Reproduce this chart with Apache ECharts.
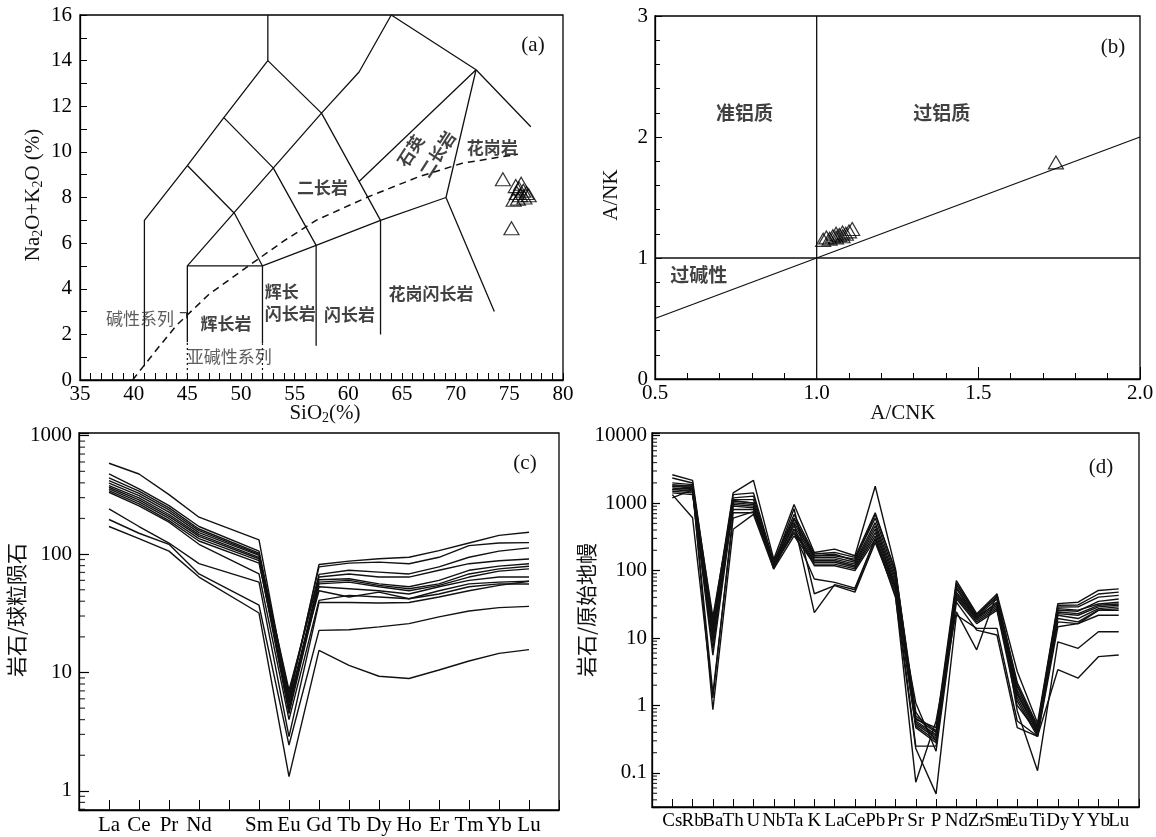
<!DOCTYPE html>
<html><head><meta charset="utf-8">
<script src="https://cdn.jsdelivr.net/npm/echarts@6/dist/echarts.min.js"></script>
<style>html,body{margin:0;padding:0;background:#fff}#chart{width:1156px;height:837px}</style>
</head><body><div id="chart"></div>
<script>
// ================= DATA =================
// (a) TAS diagram samples
const tasSiO2 = [74.4, 75.2, 75.4, 75.6, 75.7, 75.9, 76.0, 76.1, 76.3, 76.4, 76.6, 76.8, 75.8];
const tasAlkali = [8.8, 6.65, 7.9, 8.5, 8.2, 8.4, 8.1, 8.6, 8.3, 8.0, 8.2, 8.1, 7.95];
// (a) field boundaries (data coordinates)
const tasOuter = [[41,0.6],[41,7],[45,9.4],[48.4,11.5],[52.5,14],[57.5,11.7],[61,13.5],[64,16],[71.9,13.6],[77,11.1]];
const tasTopLine = [[52.5,14],[52.5,16]];
const tasLineB = [[48.4,11.5],[53,9.3],[57,5.9],[57,1.5]];
const tasLineC = [[45,9.4],[49.4,7.3],[52,5],[52,1.6]];
const tasLineD = [[45,1.65],[45,5],[57.5,11.7],[63,7],[63,2]];
const tasLineE = [[45,5],[52,5],[57,5.9],[63,7],[69.1,8],[73.6,3]];
const tasLineF = [[61,8.7],[71.9,13.6],[69.1,8]];
const tasDotted45 = [[45,0],[45,1.65]];
const tasDotted52 = [[52,0],[52,1.6]];
const tasHook = [[44.3,2.95],[44.95,2.95],[44.95,2.7]];
const tasAlkalineDivide = [[39.9,0],[42,1.25],[44,2.4],[47,3.75],[50.7,5.0],[54,6.1],[57,7.0],[61.7,8.0],[66.5,8.9],[70.6,9.5],[75.8,9.9]];
const tasFieldNames = ['二长岩','花岗岩','花岗闪长岩','闪长岩','辉长','闪长岩','辉长岩'];
const tasFieldX = [57.6, 73.4, 67.7, 60.1, 53.8, 54.6, 48.6];
const tasFieldY = [8.45, 10.2, 3.8, 2.85, 3.87, 2.92, 2.49];
const tasRotNames = ['石英','二长岩'];
const tasRotX = [65.8, 68.3];
const tasRotY = [10.05, 9.9];
const tasSeriesNames = ['碱性系列','亚碱性系列'];
const tasSeriesX = [40.6, 48.9];
const tasSeriesY = [2.7, 1.05];

// (b) A/CNK - A/NK
const aCNK = [1.02, 1.03, 1.04, 1.05, 1.06, 1.07, 1.08, 1.09, 1.10, 1.11, 1.08, 1.06, 1.74];
const aNK  = [1.15, 1.17, 1.16, 1.18, 1.17, 1.19, 1.18, 1.20, 1.22, 1.24, 1.21, 1.20, 1.79];
const bDiagonal = [[0.5,0.5],[2.0,2.0]];
const bVertical = [[1,0],[1,3]];
const bHorizontal = [[0.5,1],[2.0,1]];
const bFieldNames = ['准铝质','过铝质','过碱性'];
const bFieldX = [0.777, 1.387, 0.635];
const bFieldY = [2.2, 2.2, 0.86];

// (c) chondrite-normalised REE
const reeElements = ['La','Ce','Pr','Nd','Sm','Eu','Gd','Tb','Dy','Ho','Er','Tm','Yb','Lu'];
const reeAxisTicks = ['pad0','La','Ce','Pr','Nd','Pm','Sm','Eu','Gd','Tb','Dy','Ho','Er','Tm','Yb','Lu','pad1'];
const reeHiddenTicks = ['pad0','Pm','pad1'];
const ree01 = [585, 475, 318, 205, 132, 5.85, 81.8, 87.3, 91.4, 94, 107, 124, 144, 153];
const ree02 = [475, 355, 257, 171, 106, 6.2, 78, 84, 85.6, 83, 94, 118, 124, 125];
const ree03 = [440, 340, 246, 163, 102, 6.65, 67.4, 73, 70.5, 68, 78, 94, 106, 113];
const ree04 = [418, 326, 236, 158, 99.3, 7.1, 64, 68, 64, 64, 73, 83, 88, 91];
const ree05 = [397, 312, 226, 152, 97.5, 5.48, 60.8, 62, 56, 53, 60, 73, 79.2, 83];
const ree06 = [379, 298, 216, 146, 94, 5.1, 58, 60, 54.5, 51, 56, 68, 75, 79];
const ree07 = [367, 287, 208, 141, 91.4, 4.8, 56, 58, 53, 49, 54.5, 64, 71.9, 75];
const ree08 = [355, 276, 200, 135, 88, 4.5, 53, 51, 49, 46, 53, 60, 64, 64];
const ree09 = [344, 266, 192, 129, 84, 5.66, 49, 43.4, 47.8, 42, 49, 56, 58, 59];
const ree10 = [333, 255, 186, 121, 68, 4.0, 40.7, 44.8, 43.4, 42, 46, 53, 56, 56];
const ree11 = [241, 171, 124, 83, 58, 2.87, 39, 39, 38.6, 39, 43.4, 49, 54.5, 59];
const ree12 = [196, 150, 121, 68, 37, 2.44, 22.7, 23, 24.3, 25.9, 29.5, 33.1, 35.3, 36.2];
const ree13 = [171, 135, 106, 64, 31.8, 1.32, 15.4, 11.5, 9.3, 8.9, 10.5, 12.5, 14.5, 15.6];

// (d) primitive-mantle-normalised spidergram
const spiderElements = ['Cs','Rb','Ba','Th','U','Nb','Ta','K','La','Ce','Pb','Pr','Sr','P','Nd','Zr','Sm','Eu','Ti','Dy','Y','Yb','Lu'];
const spiderAxisTicks = ['pad0','Cs','Rb','Ba','Th','U','Nb','Ta','K','La','Ce','Pb','Pr','Sr','P','Nd','Zr','Sm','Eu','Ti','Dy','Y','Yb','Lu','pad1'];
const spiderHiddenTicks = ['pad0','pad1'];
const sp01 = [2640, 2180, 17.4, 1420, 2180, 148, 955, 186, 208, 166, 1780, 106, 0.62, 0.47, 71, 23, 45, 3.2, 0.55, 32.4, 34, 50.8, 53.7];
const sp02 = [2360, 1990, 14.7, 1340, 1420, 133, 681, 176, 186, 157, 721, 94.5, 0.7, 0.42, 62, 21.8, 40.5, 2.2, 0.5, 30.6, 31, 45, 48];
const sp03 = [2000, 1880, 13.1, 1200, 1270, 125, 575, 166, 166, 148, 600, 84, 0.65, 0.40, 56.9, 20.6, 38, 1.9, 0.47, 28.9, 29, 40.5, 43];
const sp04 = [1880, 1780, 11.1, 1130, 1130, 118, 514, 157, 157, 133, 514, 75, 0.59, 0.37, 53.7, 19.5, 34.2, 1.7, 0.45, 27.3, 26, 32, 34];
const sp05 = [1780, 1680, 9.9, 1070, 1010, 125, 459, 148, 148, 125, 459, 67, 0.56, 0.35, 48, 20.6, 32.4, 1.55, 0.42, 24.4, 23, 30.6, 32];
const sp06 = [1680, 1590, 8.8, 1010, 955, 112, 410, 140, 140, 118, 410, 60, 0.53, 0.33, 45.4, 19.5, 30.6, 1.45, 0.40, 23, 21.8, 29, 30.6];
const sp07 = [1590, 1500, 7.05, 955, 903, 118, 366, 133, 133, 112, 366, 56.9, 0.5, 0.3, 42.9, 18.4, 28.9, 1.3, 0.37, 21.8, 19.5, 27.3, 29];
const sp08 = [1500, 1420, 5.6, 903, 853, 106, 327, 125, 125, 106, 327, 53.7, 0.47, 0.28, 40.5, 17.4, 27.3, 1.16, 0.35, 19.5, 17.4, 26, 27.3];
const sp09 = [1420, 1340, 16.4, 807, 807, 112, 410, 118, 118, 100, 292, 50.8, 0.25, 0.25, 38.3, 16.4, 25.8, 1.0, 0.4, 17.4, 16.4, 25.8, 25.8];
const sp10 = [1340, 608, 1.3, 721, 721, 125, 827, 45.4, 60, 48, 261, 45.4, 1.09, 0.21, 34.2, 13.1, 11.1, 0.47, 0.35, 14.7, 16.4, 21.8, 21.8];
const sp11 = [1590, 1680, 0.87, 410, 681, 106, 514, 23.8, 62, 52, 292, 42.9, 0.073, 0.59, 24.4, 6.7, 45.4, 0.83, 0.108, 8.8, 7.05, 12.4, 12.4];
const sp12 = [1200, 1590, 1.5, 600, 750, 125, 366, 75, 67, 55, 300, 40, 0.23, 0.049, 22, 13.9, 13.9, 0.59, 0.35, 3.4, 2.55, 5.3, 5.6];
const sp13 = [1800, 1800, 20.6, 1100, 1000, 140, 600, 166, 175, 140, 681, 100, 0.8, 0.3, 65, 22, 42, 2.0, 0.45, 25.8, 25, 35, 38];

// log-axis minor tick positions
const logMinorSteps = [2, 3, 4, 5, 6, 7, 8, 9];
const reeMinorDecades = [0.1, 1, 10, 100];
const spiderMinorDecades = [0.01, 0.1, 1, 10, 100, 1000];

// ================= CHART =================
const SERIF = '"Liberation Serif", "Times New Roman", serif';
const CJK = '"Noto Sans CJK SC", sans-serif';
const INK = '#111';

const chart = echarts.init(document.getElementById('chart'), null, {renderer: 'canvas'});

function ax(extra) {
  const base = {
    axisLine: {show: true, onZero: false, lineStyle: {color: '#000', width: 1.3}},
    axisTick: {show: true, inside: true, length: 7, lineStyle: {color: '#000', width: 1}},
    axisLabel: {color: '#000', fontFamily: SERIF, fontSize: 21, hideOverlap: false},
    splitLine: {show: false},
    minorSplitLine: {show: false},
    splitArea: {show: false}
  };
  for (const k in extra) {
    if (base[k] && typeof base[k] === 'object' && typeof extra[k] === 'object' && !Array.isArray(extra[k])) {
      base[k] = Object.assign({}, base[k], extra[k]);
    } else base[k] = extra[k];
  }
  return base;
}

function logLabel(v) {
  const e = Math.log10(v);
  const r = Math.round(e);
  if (Math.abs(e - r) > 1e-6) return '';
  return r < 0 ? Math.pow(10, r).toFixed(-r) : String(Math.round(Math.pow(10, r)));
}

function pathLine(data, gi, dash, width) {
  return {
    type: 'line', xAxisIndex: gi, yAxisIndex: gi, data: data, symbol: 'none', silent: true,
    lineStyle: {color: INK, width: width || 1.3, type: dash || 'solid'}, animation: false, z: 3
  };
}

function textSeries(gi, names, xs, ys, style, rotate) {
  return {
    type: 'scatter', xAxisIndex: gi, yAxisIndex: gi, symbolSize: 1, silent: true,
    itemStyle: {color: 'rgba(0,0,0,0)'},
    data: names.map((n, i) => ({name: n, value: [xs[i], ys[i]]})),
    label: Object.assign({show: true, position: 'inside', formatter: '{b}', rotate: rotate || 0}, style),
    z: 4
  };
}

function triangles(gi, xs, ys) {
  return {
    type: 'scatter', xAxisIndex: gi, yAxisIndex: gi, symbol: 'triangle', symbolSize: [15, 13],
    data: xs.map((x, i) => [x, ys[i]]), silent: true,
    itemStyle: {color: 'rgba(0,0,0,0)', borderColor: '#000', borderWidth: 1.2}, z: 5
  };
}

function profile(gi, ticks, elements, vals) {
  return {
    type: 'line', xAxisIndex: gi, yAxisIndex: gi, symbol: 'none', connectNulls: true, silent: true,
    data: ticks.map(t => { const i = elements.indexOf(t); return i < 0 ? null : vals[i]; }),
    lineStyle: {color: INK, width: 1.4}, z: 3
  };
}

// minor log ticks drawn as tiny rect symbols on the left edge category (pad0)
function minorTicks(gi, decades, len, minV, maxV) {
  const data = [];
  decades.forEach(d => logMinorSteps.forEach(s => {
    const v = +(d * s).toPrecision(6);
    if (v > minV && v < maxV) data.push(['pad0', v]);
  }));
  return {
    type: 'scatter', xAxisIndex: gi, yAxisIndex: gi, silent: true, z: 6,
    symbol: 'rect', symbolSize: [len, 1.2], symbolOffset: [len / 2, 0],
    itemStyle: {color: '#000'}, data: data, clip: false
  };
}

const fieldStyle = {color: INK, fontFamily: CJK, fontSize: 17, fontWeight: 'bold'};
const seriesStyle = {color: '#333', fontFamily: CJK, fontSize: 17, fontWeight: 'normal'};
const bStyle = {color: INK, fontFamily: CJK, fontSize: 19, fontWeight: 'bold'};

const series = [
  // (a)
  pathLine(tasOuter, 0), pathLine(tasTopLine, 0), pathLine(tasLineB, 0), pathLine(tasLineC, 0),
  pathLine(tasLineD, 0), pathLine(tasLineE, 0), pathLine(tasLineF, 0), pathLine(tasHook, 0, 'solid', 1),
  pathLine(tasDotted45, 0, [2, 3], 1.2), pathLine(tasDotted52, 0, [2, 3], 1.2),
  pathLine(tasAlkalineDivide, 0, [7, 5], 1.5),
  textSeries(0, tasFieldNames, tasFieldX, tasFieldY, fieldStyle),
  textSeries(0, tasRotNames, tasRotX, tasRotY, fieldStyle, 57),
  textSeries(0, tasSeriesNames, tasSeriesX, tasSeriesY, seriesStyle),
  triangles(0, tasSiO2, tasAlkali),
  // (b)
  pathLine(bDiagonal, 1), pathLine(bVertical, 1), pathLine(bHorizontal, 1),
  textSeries(1, bFieldNames, bFieldX, bFieldY, bStyle),
  triangles(1, aCNK, aNK),
  // (c)
  ...[ree01, ree02, ree03, ree04, ree05, ree06, ree07, ree08, ree09, ree10, ree11, ree12, ree13]
    .map(v => profile(2, reeAxisTicks, reeElements, v)),
  minorTicks(2, reeMinorDecades, 6, 0.69, 1054),
  // (d)
  ...[sp01, sp02, sp03, sp04, sp05, sp06, sp07, sp08, sp09, sp10, sp11, sp12, sp13]
    .map(v => profile(3, spiderAxisTicks, spiderElements, v)),
  minorTicks(3, spiderMinorDecades, 5, 0.0313, 10970)
];

const gridBase = {show: true, borderColor: '#000', borderWidth: 1.3, backgroundColor: 'transparent', containLabel: false, outerBoundsMode: 'none'};

function txt(x, y, text, font, rot, rich) {
  const st = {text: text, font: font, fill: INK, align: 'center', verticalAlign: 'middle',
              textAlign: 'center', textVerticalAlign: 'middle'};
  if (rich) st.rich = rich;
  return {type: 'text', x: x, y: y, rotation: rot || 0, silent: true, z: 100, style: st};
}
const subRich = {
  n: {fontFamily: 'Liberation Serif', fontSize: 21, fill: INK, color: INK, lineHeight: 24},
  s: {fontFamily: 'Liberation Serif', fontSize: 14, fill: INK, color: INK, lineHeight: 12, verticalAlign: 'bottom'}
};

const option = {
  animation: false,
  backgroundColor: '#fff',
  grid: [
    Object.assign({left: 80, top: 15, width: 483, height: 365}, gridBase),
    Object.assign({left: 655, top: 16, width: 485, height: 363}, gridBase),
    Object.assign({left: 79, top: 433, width: 480, height: 377}, gridBase),
    Object.assign({left: 652, top: 433, width: 487, height: 374}, gridBase)
  ],
  xAxis: [
    ax({type: 'value', gridIndex: 0, min: 35, max: 80, interval: 5,
        minorTick: {show: true, splitNumber: 5, length: 7, lineStyle: {color: '#000', width: 1}},
        axisLabel: {margin: 4, showMinLabel: true, showMaxLabel: true}}),
    ax({type: 'value', gridIndex: 1, min: 0.5, max: 2.0, interval: 0.5,
        axisTick: {length: 12},
        minorTick: {show: true, splitNumber: 5, length: 6, lineStyle: {color: '#000', width: 1}},
        axisLabel: {margin: 4, showMinLabel: true, showMaxLabel: true, formatter: v => v.toFixed(1)}}),
    ax({type: 'category', gridIndex: 2, data: reeAxisTicks, boundaryGap: false,
        axisTick: {length: 10, interval: 0},
        axisLabel: {margin: 5, interval: 0, fontSize: 21,
                    formatter: v => reeHiddenTicks.indexOf(v) >= 0 ? '' : v}}),
    ax({type: 'category', gridIndex: 3, data: spiderAxisTicks, boundaryGap: false,
        axisTick: {length: 8, interval: 0},
        axisLabel: {margin: 5, interval: 0, fontSize: 19,
                    formatter: v => spiderHiddenTicks.indexOf(v) >= 0 ? '' : v}})
  ],
  yAxis: [
    ax({type: 'value', gridIndex: 0, min: 0, max: 16, interval: 2,
        minorTick: {show: true, splitNumber: 2, length: 7, lineStyle: {color: '#000', width: 1}},
        axisLabel: {margin: 8, showMinLabel: true, showMaxLabel: true}}),
    ax({type: 'value', gridIndex: 1, min: 0, max: 3, interval: 1,
        axisTick: {length: 7},
        minorTick: {show: true, splitNumber: 5, length: 5, lineStyle: {color: '#000', width: 1}},
        axisLabel: {margin: 7, showMinLabel: true, showMaxLabel: true}}),
    ax({type: 'log', logBase: 10, gridIndex: 2, min: 0.69, max: 1054,
        axisTick: {length: 10, lineStyle: {color: '#000', width: 1.2}},
        axisLabel: {margin: 7, formatter: logLabel}}),
    ax({type: 'log', logBase: 10, gridIndex: 3, min: 0.0313, max: 10970,
        axisTick: {length: 8, lineStyle: {color: '#000', width: 1.2}},
        axisLabel: {margin: 5, formatter: logLabel}})
  ],
  series: series,
  graphic: [
    txt(533, 45, '(a)', '21px "Liberation Serif"'),
    txt(1113, 47, '(b)', '21px "Liberation Serif"'),
    txt(525, 463, '(c)', '21px "Liberation Serif"'),
    txt(1101, 467, '(d)', '21px "Liberation Serif"'),
    txt(33, 195, '{n|Na}{s|2}{n|O+K}{s|2}{n|O (%)}', '21px "Liberation Serif"', Math.PI / 2, subRich),
    txt(325, 413, '{n|SiO}{s|2}{n|(%)}', '21px "Liberation Serif"', 0, subRich),
    txt(611, 195, 'A/NK', '21px "Liberation Serif"', Math.PI / 2),
    txt(903, 413, 'A/CNK', '21px "Liberation Serif"'),
    txt(16, 610, '岩石/球粒陨石', '21px "Noto Sans CJK SC"', Math.PI / 2),
    txt(586, 610, '岩石/原始地幔', '21px "Noto Sans CJK SC"', Math.PI / 2)
  ]
};

chart.setOption(option);
</script>
</body></html>
